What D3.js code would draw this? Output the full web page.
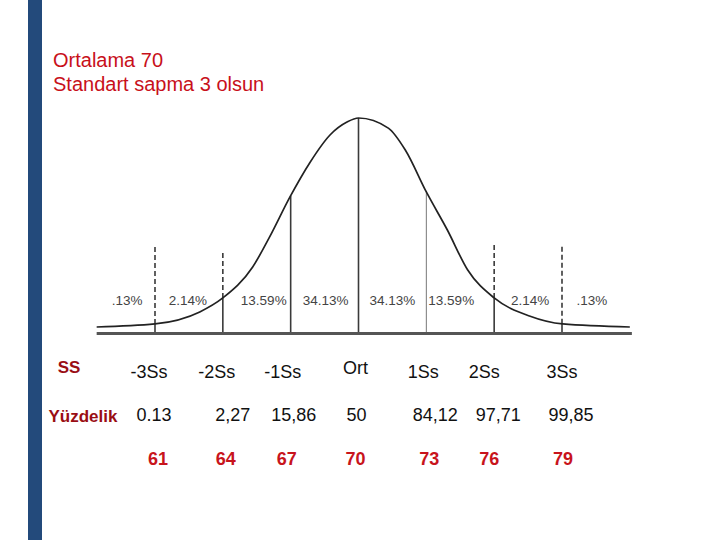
<!DOCTYPE html>
<html>
<head>
<meta charset="utf-8">
<script src="https://cdn.jsdelivr.net/npm/d3@7"></script>
<style>
  html, body { margin: 0; padding: 0; background: #ffffff; }
  svg { display: block; font-family: "Liberation Sans", Arial, sans-serif; }
</style>
</head>
<body>
<svg id="chart" width="720" height="540"></svg>
<script>
// ---- data ----
const titleLines = ["Ortalama 70", "Standart sapma 3 olsun"];
// normal curve: z (in SD) and relative height (peak = 100)
const curveZ = [-3.86, -3.0, -2.34, -2.0, -1.56, -1.31, -1.01, -0.72, -0.42, -0.17, 0, 0.44, 0.69, 1.0, 1.31, 1.61, 2.0, 2.52, 3.01, 4.0];
const curveH = [2.8, 4.2, 9.8, 16.3, 30.7, 44.7, 63.3, 79.1, 92.1, 98.1, 100, 95.3, 85.1, 65.6, 47.9, 29.3, 16.3, 7.9, 4.2, 2.8];
const sdMarks = [-3, -2, -1, 0, 1, 2, 3];
const areaLabels = [".13%", "2.14%", "13.59%", "34.13%", "34.13%", "13.59%", "2.14%", ".13%"];
const sdLabels = ["-3Ss", "-2Ss", "-1Ss", "Ort", "1Ss", "2Ss", "3Ss"];
const percentiles = ["0.13", "2,27", "15,86", "50", "84,12", "97,71", "99,85"];
const scores = ["61", "64", "67", "70", "73", "76", "79"];
const rowTitles = ["SS", "Yüzdelik"];

// ---- layout (positions/styles, kept separate from data) ----
const L = {
  zLeft: -3.86, zRight: 4.03,
  dashTop: { "-3": 41, "-2": 37.7, "2": 41, "3": 41 },
  areaDx: [6, -1, 7, 1, 0, -9, 2, -4],
  sdDx: [-6, -6, -8, -3, -3, -10, 0],
  sdDy: [0, 0, 0, -4, 0, 0, 0],
  pctDx: [-1, 10, 3, -2, 9, 4, 9],
  scoreDx: [3, 3, -4, -3, 3, -5, 1]
};

const svg = d3.select("#chart");
const x = d3.scaleLinear().domain([-3, 3]).range([155, 562]);
const y = d3.scaleLinear().domain([0, 100]).range([333, 118]);

// blue side bar
svg.append("rect").attr("x", 28).attr("y", 0).attr("width", 14).attr("height", 540).attr("fill", "#234a7b");

// title
svg.selectAll("text.title").data(titleLines).enter().append("text")
  .attr("class", "title")
  .attr("x", 53).attr("y", (d, i) => 67 + i * 24)
  .attr("font-size", 20).attr("fill", "#c8101a")
  .text(d => d);

// curve
const pts = curveZ.map((z, i) => [z, curveH[i]]);
const line = d3.line().x(d => x(d[0])).y(d => y(d[1])).curve(d3.curveMonotoneX);
const heightAt = z => {
  const i = curveZ.indexOf(z);
  if (i >= 0) return curveH[i];
  for (let k = 0; k < curveZ.length - 1; k++) {
    if (z >= curveZ[k] && z <= curveZ[k + 1]) {
      const t = (z - curveZ[k]) / (curveZ[k + 1] - curveZ[k]);
      return curveH[k] + t * (curveH[k + 1] - curveH[k]);
    }
  }
  return 0;
};

// vertical SD lines
sdMarks.forEach(z => {
  const top = heightAt(z);
  const faint = z === 1;
  svg.append("line")
    .attr("x1", x(z)).attr("x2", x(z))
    .attr("y1", y(0)).attr("y2", y(top))
    .attr("stroke", faint ? "#777" : "#3a3a3a")
    .attr("stroke-width", faint ? 1 : 1.6);
  const dt = L.dashTop[String(z)];
  if (dt !== undefined) {
    svg.append("line")
      .attr("x1", x(z)).attr("x2", x(z))
      .attr("y1", y(top)).attr("y2", y(dt))
      .attr("stroke", "#3a3a3a").attr("stroke-width", 1.6)
      .attr("stroke-dasharray", "5,3");
  }
});

svg.append("path").datum(pts)
  .attr("d", line)
  .attr("fill", "none").attr("stroke", "#222").attr("stroke-width", 1.7);

// baseline
svg.append("line")
  .attr("x1", x(L.zLeft)).attr("x2", x(L.zRight))
  .attr("y1", y(0) + 0.5).attr("y2", y(0) + 0.5)
  .attr("stroke", "#555").attr("stroke-width", 3);

// area percentages
const mids = [-3.5, -2.5, -1.5, -0.5, 0.5, 1.5, 2.5, 3.5];
svg.selectAll("text.area").data(areaLabels).enter().append("text")
  .attr("class", "area")
  .attr("x", (d, i) => x(mids[i]) + L.areaDx[i]).attr("y", 305)
  .attr("text-anchor", "middle")
  .attr("font-size", 13.5).attr("fill", "#444")
  .text(d => d);

// table row titles
svg.append("text").attr("x", 69).attr("y", 373).attr("text-anchor", "middle")
  .attr("font-size", 17).attr("font-weight", "bold").attr("fill", "#9a0e14").text(rowTitles[0]);
svg.append("text").attr("x", 83).attr("y", 422).attr("text-anchor", "middle")
  .attr("font-size", 17).attr("font-weight", "bold").attr("fill", "#9a0e14").text(rowTitles[1]);

// row 1: SD labels
svg.selectAll("text.sd").data(sdLabels).enter().append("text")
  .attr("class", "sd")
  .attr("x", (d, i) => x(sdMarks[i]) + L.sdDx[i]).attr("y", (d, i) => 378 + L.sdDy[i])
  .attr("text-anchor", "middle").attr("font-size", 18).attr("fill", "#111")
  .text(d => d);

// row 2: percentiles
svg.selectAll("text.pct").data(percentiles).enter().append("text")
  .attr("class", "pct")
  .attr("x", (d, i) => x(sdMarks[i]) + L.pctDx[i]).attr("y", 421)
  .attr("text-anchor", "middle").attr("font-size", 18).attr("fill", "#111")
  .text(d => d);

// row 3: scores
svg.selectAll("text.score").data(scores).enter().append("text")
  .attr("class", "score")
  .attr("x", (d, i) => x(sdMarks[i]) + L.scoreDx[i]).attr("y", 465)
  .attr("text-anchor", "middle").attr("font-size", 18).attr("font-weight", "bold").attr("fill", "#c8141c")
  .text(d => d);
</script>
</body>
</html>
